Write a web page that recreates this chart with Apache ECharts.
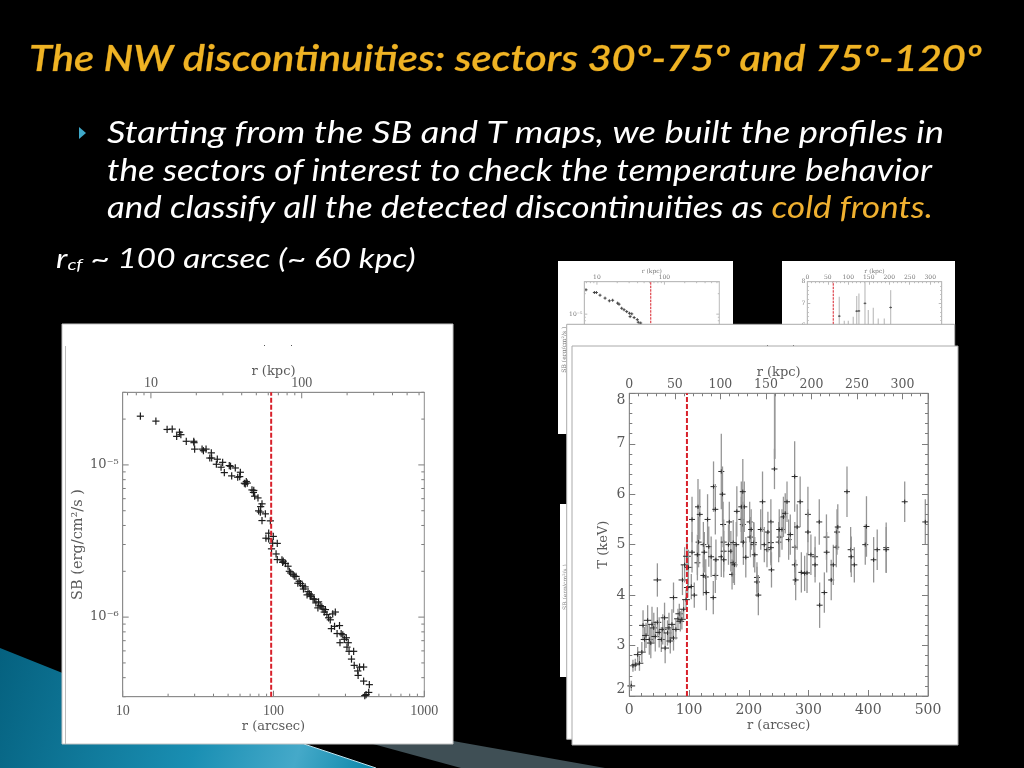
<!DOCTYPE html>
<html><head><meta charset="utf-8"><style>html,body{margin:0;padding:0;background:#000}#c{width:1024px;height:768px}</style>
<script src="https://cdn.jsdelivr.net/npm/echarts@6/dist/echarts.min.js"></script></head><body><div id="c"></div>
<script>
const titleText = 'The NW discontinuities: sectors 30º-75º and 75º-120º';
const bodyLines = ['Starting from the SB and T maps, we built the profiles in','the sectors of interest to check the temperature behavior','and classify all the detected discontinuities as '];
const bodyAccent = 'cold fronts.';
const coldFrontRadius = 96.5;

// Surface brightness, sector 75-120 (r in arcsec, SB in units of 1e-5)
const sbR = [13.1,16.6,19.7,21.3,22.8,23.8,24.3,26.4,29.6,29.7,30,33.6,34.3,35.7,38.7,37.8,38.9,42.4,41.8,46,44.9,47.2,50.9,51.9,55.8,52.8,57.9,60.3,59.7,64.1,66,67,65,72,73.6,74,75,78.9,83.9,82.2,79.7,81.8,88.3,83.9,95.3,92.9,89.1,92.9,99.7,98.7,105.9,97,104,105.9,113.8,116,115,124.8,127.4,130,137.4,141,145,151,156,158,169.4,173,167,175.8,186.6,191,204,209,197,221,217,257,247,232,238,242,254,274,264,281,288,304,295,276,313,307,317,340,329,343,372,396,362,364,396,432,428,411,403,120,135,148,162,178,183,199,213,226];
const sbV = [2.09,1.94,1.71,1.72,1.54,1.64,1.58,1.43,1.43,1.40,1.27,1.27,1.24,1.27,1.2,1.11,1.11,1.09,1.01,1.04,.966,.89,.99,.98,.955,.847,.83,.895,.838,.758,.778,.76,.75,.685,.66,.68,.623,.607,.555,.532,.499,.49,.477,.431,.429,.356,.33,.327,.339,.306,.305,.281,.26,.239,.238,.233,.229,.216,.2,.195,.186,.185,.167,.166,.161,.153,.147,.142,.14,.137,.131,.124,.119,.117,.115,.112,.108,.108,.105,.099,.096,.084,.087,.088,.078,.078,.0766,.0732,.0715,.0679,.0679,.0635,.0596,.0596,.053,.0482,.047,.047,.0443,.0414,.038,.036,.032,.031,.0305,.225,.19,.172,.158,.14,.132,.126,.113,.104];
const sbXMajor = [10,100,1000];
const sbXMinor = [20,30,40,50,60,70,80,90,200,300,400,500,600,700,800,900];
const sbTopMajor = [10,100];
const sbTopMinor = [7,8,9,20,30,40,50,60,70,80,90,200,300,400,500,600];
const sbYMajor = [.1,1];
const sbYMinor = [.03,.04,.05,.06,.07,.08,.09,.2,.3,.4,.5,.6,.7,.8,.9,2,3];

// Temperature, sector 75-120 (r in arcsec, T in keV, error in keV)
const tR = [3.3,6.1,10,14,17,21,23,25.7,28,30.7,33.5,36,38,41,43.5,47,50,53.6,56,59,60,64,66.4,68.6,71.4,74,74,47,78,81.5,83.7,85.4,88,91,89,92.6,95,96.5,99,98,103.8,108.8,105,105,114,115,118,116,114,124,125.6,124,128,131,129,133,137,141,140.6,144,144,145,154,154,156,157,158,158,158,166,167.4,170,172,174,174,176,179,180,187.5,190,187.5,192.5,190,191,195,201.5,202.6,204,208,208.7,210,213.7,213.7,216,220,223,226,230.5,232,237,237,237,238,243,250,251.7,251,255.6,258,261,264,266.7,269.5,276.8,277,277,278.5,281,286,288,293.5,297.5,299,299,304,311,311,318,318.6,326.5,330,330.4,338,341.5,346.5,347.7,349,364.4,370.5,371.6,376.7,395,397,409,415,430,430,461,495.5];
const tV = [2.2,2.6,2.62,2.82,2.65,2.87,3.4,3.12,3.2,3.5,3.12,3.05,3.42,3.35,3.18,3.46,3.26,3.12,3.32,3.55,2.95,3.25,3.35,3.09,3.42,3.15,3.95,4.3,3.32,3.53,3.63,3.48,3.52,3.72,4.3,4.6,3.91,4.77,4.55,4.15,4.17,4,5.5,4.85,4.64,5.75,5.6,5.05,4.8,5,4.85,4.39,4.36,5.5,4.05,4.96,4.76,6.15,3.95,5.7,4.39,4.7,6.45,4.76,6,5.4,5.05,4.87,4.7,5,5.45,4.87,4.41,5.04,4.64,4.6,5,5.66,5.5,5.4,5.75,5.75,6.05,5.05,4.75,5.45,5.15,5.3,5,5.04,4.8,4.35,4.26,4,5.3,5.85,5,4.9,5.25,5.45,5.04,4.94,4.5,6.5,5.05,5.15,5.3,5.3,5.55,5.62,5.85,5.1,5.2,6.35,4.95,4.6,4.3,5.35,5.85,4.45,4.43,4.44,5.6,5.25,4.8,4.76,4.6,5.45,3.8,4.05,5.15,4.85,4.3,4.6,4.95,5.25,5.35,6.05,4.9,4.76,4.6,5,5.36,4.7,4.9,4.94,4.9,5.85,5.45];
const tE = [.1,.12,.12,.15,.15,.2,.3,.25,.25,.3,.3,.3,.35,.3,.3,.3,.3,.25,.3,.3,.3,.25,.3,.25,.3,.25,.3,.33,.2,.2,.2,.2,.2,.2,.3,.35,.2,.3,.35,.2,.25,.25,.45,.4,.35,.55,.5,.5,.4,.45,.4,.4,.35,.5,.35,.4,.4,.5,.33,.5,.35,.4,.75,.4,.55,.45,.45,.4,.35,.4,.4,.4,.3,.45,.4,.4,.45,.5,.45,.45,.5,.5,.65,.45,.4,.4,.4,.4,.45,.4,.35,.3,.3,.4,.4,.6,.35,.35,.4,.45,.4,.35,.35,.4,.4,.4,.4,.4,.4,.4,.4,.4,.4,.7,.5,.4,.4,.45,.5,.4,.35,.4,.55,.45,.4,.4,.35,.45,.45,.4,.45,.4,.4,.4,.4,.45,.45,.5,.45,.4,.35,.4,.6,.45,.4,.5,.45,.4,.45];
const tLongR = [243.5];
const tLongLow = [6.7];
const tLongHigh = [8];
const tKpcMax = 328;

// Partly hidden panels behind the front plots
const sbBackR = [10.6,14.1,15.1,17.1,20.3,23.5,26.3,31.2,32.7,35.8,38.8,42.5,46.6,50.5,47.7,54.7,61,63,67,68.5];
const sbBackV = [2.28,2.08,2.08,1.9,1.72,1.57,1.6,1.45,1.4,1.22,1.16,1.09,1.03,1.01,.92,.89,.83,.76,.7,.74];
const tBackR = [119,183.7,192,214.6,310,171,227,245.6,264,286.5,137.7,152.6];
const tBackV = [6.41,6.64,6.65,7,6.81,5.6,5.6,5.6,5.6,5.6,5.6,5.6];
const tBackE = [.9,.7,.8,1.2,.8,.78,1.09,1.2,.7,.7,.6,.6];

const SERIF = '"DejaVu Serif","Liberation Serif",serif';
const LSERIF = '"Liberation Serif",serif';
const HAND = 'Lato,"Open Sans",sans-serif';
const chart = echarts.init(document.getElementById('c'));

function zip(a,b,c){return a.map((v,i)=>c?[v,b[i],c[i]]:[v,b[i]]);}
function crossSeries(name,data,xi,yi,z,half,color,w){
  return {type:'custom',name,xAxisIndex:xi,yAxisIndex:yi,z,silent:true,encode:{x:0,y:1},data,
    renderItem(p,api){const c=api.coord([api.value(0),api.value(1)]);const s={stroke:color,lineWidth:w};
      return {type:'group',children:[
        {type:'line',shape:{x1:c[0]-half,y1:c[1],x2:c[0]+half,y2:c[1]},style:s},
        {type:'line',shape:{x1:c[0],y1:c[1]-half,x2:c[0],y2:c[1]+half},style:s}]};}};
}
function errSeries(name,data,xi,yi,z,half,barColor,crossColor){
  return {type:'custom',name,xAxisIndex:xi,yAxisIndex:yi,z,silent:true,encode:{x:0,y:1},data,
    renderItem(p,api){const x=api.value(0),y=api.value(1),e=api.value(2);
      const c=api.coord([x,y]),a=api.coord([x,Math.max(y-e,2)]),b=api.coord([x,Math.min(y+e,8)]);
      const hw=half*(x<100?1.3:1);
      return {type:'group',children:[
        {type:'line',shape:{x1:c[0],y1:a[1],x2:c[0],y2:b[1]},style:{stroke:barColor,lineWidth:1.3}},
        {type:'line',shape:{x1:c[0]-hw,y1:c[1],x2:c[0]+hw,y2:c[1]},style:{stroke:crossColor,lineWidth:1}},
        {type:'line',shape:{x1:c[0],y1:c[1]-half*.7,x2:c[0],y2:c[1]+half*.7},style:{stroke:crossColor,lineWidth:1}}]};}};
}
function longSeries(name,rs,lo,hi,xi,yi,z,color){
  return {type:'custom',name,xAxisIndex:xi,yAxisIndex:yi,z,silent:true,encode:{x:0,y:1},data:rs.map((r,i)=>[r,lo[i],hi[i]]),
    renderItem(p,api){const a=api.coord([api.value(0),api.value(1)]),b=api.coord([api.value(0),api.value(2)]);
      return {type:'line',shape:{x1:a[0],y1:a[1],x2:b[0],y2:b[1]},style:{stroke:color,lineWidth:1.8}};}};
}
function redLine(name,r,y0,y1,xi,yi,z,w,dash){
  return {type:'line',name,xAxisIndex:xi,yAxisIndex:yi,z,silent:true,symbol:'none',data:[[r,y0],[r,y1]],
    lineStyle:{color:'#d8202a',width:w,type:dash},animation:false};
}
// tick marks for logarithmic axes, placed through the axis scale
function xTicks(name,major,minor,yEdge,dir,xi,yi,z,lenMajor,lenMinor,color){
  const all=major.concat(minor);
  return {type:'custom',name,xAxisIndex:xi,yAxisIndex:yi,z,silent:true,encode:{x:0,y:1},data:all.map(v=>[v,yEdge]),
    renderItem(p,api){const c=api.coord([api.value(0),api.value(1)]);const l=(p.dataIndex<major.length?lenMajor:lenMinor)*dir;
      return {type:'line',shape:{x1:c[0],y1:c[1],x2:c[0],y2:c[1]+l},style:{stroke:color,lineWidth:1}};}};
}
function yTicks(name,major,minor,x0,x1,xi,yi,z,lenMajor,lenMinor,color){
  const all=major.concat(minor);
  return {type:'custom',name,xAxisIndex:xi,yAxisIndex:yi,z,silent:true,encode:{x:0,y:1},data:all.map(v=>[x0,v]),
    renderItem(p,api){const v=api.value(1);const a=api.coord([x0,v]),b=api.coord([x1,v]);const l=p.dataIndex<major.length?lenMajor:lenMinor;
      return {type:'group',children:[
        {type:'line',shape:{x1:a[0],y1:a[1],x2:a[0]+l,y2:a[1]},style:{stroke:color,lineWidth:1}},
        {type:'line',shape:{x1:b[0],y1:b[1],x2:b[0]-l,y2:b[1]},style:{stroke:color,lineWidth:1}}]};}};
}
const near=(v,t)=>Math.abs(v-t)<1e-6*t;
const fmtLogX=v=>[10,100,1000].some(t=>near(v,t))?String(Math.round(v)):'';
const fmtLogY=v=>near(v,1)?'10⁻⁵':near(v,.1)?'10⁻⁶':'';
const fmtKpc=v=>v%50===0?String(v):'';
function axisBase(z,size,color,line){
  return {z,nameMoveOverlap:false,splitLine:{show:false},animation:false,
    nameTextStyle:{fontFamily:SERIF,fontSize:size,color},
    axisLine:{onZero:false,lineStyle:{color:line,width:1}}};
}
function logAxis(base,o){return Object.assign({},base,{type:'log',logBase:10,axisTick:{show:false},minorTick:{show:false}},o);}
function linAxis(base,o){return Object.assign({},base,{type:'value'},o);}
function lab(size,color,margin,fmt,family){return {show:true,fontFamily:family||SERIF,fontSize:size,color,margin,formatter:fmt,hideOverlap:false,showMinLabel:true,showMaxLabel:true};}
function linTicks(len,minorLen,color,split){return {axisTick:{show:true,inside:true,length:len,lineStyle:{color}},minorTick:{show:true,splitNumber:split,length:minorLen,lineStyle:{color}}};}

const F=5,B=2,TC='#7d7d7d',BTC='#bbb';
const fb=axisBase(F,13,'#5a5a5a','#8c8c8c');
const bb=axisBase(B,6,'#777','#bbb');
const tYLab=Object.assign(lab(14,'#5a5a5a',4),{verticalAlignMaxLabel:'top',verticalAlignMinLabel:'bottom'});
const sbName=Object.assign({},fb.nameTextStyle,{fontSize:14.5});
const xAxes=[
 // 0 SB bottom, 1 SB top
 logAxis(fb,{gridIndex:0,position:'bottom',min:10,max:1000,name:'r (arcsec)',nameLocation:'middle',nameGap:23,axisLabel:lab(14,'#5a5a5a',8,fmtLogX,LSERIF)}),
 logAxis(fb,{gridIndex:0,position:'top',min:6.5,max:650,name:'r (kpc)',nameLocation:'middle',nameGap:14,axisLabel:lab(14,'#5a5a5a',2,fmtLogX,LSERIF)}),
 // 2 T bottom, 3 T top
 linAxis(fb,Object.assign({gridIndex:1,position:'bottom',min:0,max:500,interval:100,name:'r (arcsec)',nameLocation:'middle',nameGap:23,axisLabel:lab(14,'#5a5a5a',7)},linTicks(6,3,TC,5))),
 linAxis(fb,Object.assign({gridIndex:1,position:'top',min:0,max:tKpcMax,interval:50,name:'r (kpc)',nameLocation:'middle',nameGap:14,axisLabel:lab(12.5,'#5a5a5a',2,fmtKpc)},linTicks(6,3,TC,5))),
 // 4 back SB bottom, 5 back SB top
 logAxis(bb,{gridIndex:2,position:'bottom',min:10,max:1000,axisLabel:lab(6,'#777',3,fmtLogX)}),
 logAxis(bb,{gridIndex:2,position:'top',min:6.5,max:650,name:'r (kpc)',nameLocation:'middle',nameGap:7,axisLabel:lab(6,'#777',1,fmtLogX)}),
 // 6 back T bottom, 7 back T top
 linAxis(bb,Object.assign({gridIndex:3,position:'bottom',min:0,max:500,interval:100,axisLabel:lab(6,'#777',3)},linTicks(3,1.5,BTC,5))),
 linAxis(bb,Object.assign({gridIndex:3,position:'top',min:0,max:tKpcMax,interval:50,name:'r (kpc)',nameLocation:'middle',nameGap:7,axisLabel:lab(6,'#777',1,fmtKpc)},linTicks(3,1.5,BTC,5))),
];
const yAxes=[
 logAxis(fb,{gridIndex:0,position:'left',min:.03,max:3,name:'SB (erg/cm²/s )',nameLocation:'middle',nameGap:37,nameTextStyle:sbName,axisLabel:lab(13,'#5a5a5a',4,fmtLogY)}),
 linAxis(fb,Object.assign({gridIndex:1,position:'left',min:2,max:8,interval:1,name:'T (keV)',nameLocation:'middle',nameGap:19,axisLabel:tYLab},linTicks(6,3,TC,5))),
 linAxis(fb,Object.assign({gridIndex:1,position:'right',min:2,max:8,interval:1,axisLabel:{show:false}},linTicks(6,3,TC,5))),
 logAxis(bb,{gridIndex:2,position:'left',min:.03,max:3,name:'SB (erg/cm²/s )',nameLocation:'middle',nameGap:17,axisLabel:lab(6,'#777',2,fmtLogY)}),
 linAxis(bb,Object.assign({gridIndex:3,position:'left',min:2,max:8,interval:1,axisLabel:lab(6,'#777',2)},linTicks(3,1.5,BTC,5))),
 linAxis(bb,Object.assign({gridIndex:3,position:'right',min:2,max:8,interval:1,axisLabel:{show:false}},linTicks(3,1.5,BTC,5))),
];
const grid=[
 {left:122.7,top:392.3,width:301.6,height:304.4,show:true,borderColor:'#8c8c8c',borderWidth:1,backgroundColor:'transparent',z:F},
 {left:629.3,top:393.3,width:298.7,height:302.7,show:true,borderColor:'#8c8c8c',borderWidth:1,backgroundColor:'transparent',z:F},
 {left:584.3,top:281.7,width:135,height:136,show:true,borderColor:'#bbb',borderWidth:1,backgroundColor:'transparent',z:B},
 {left:807.3,top:281.7,width:134.4,height:130,show:true,borderColor:'#bbb',borderWidth:1,backgroundColor:'transparent',z:B},
];
const series=[
 xTicks('sb-x-ticks',sbXMajor,sbXMinor,.03,-1,0,0,F,6,3,TC),
 xTicks('sb-top-ticks',sbTopMajor,sbTopMinor,3,1,1,0,F,6,3,TC),
 yTicks('sb-y-ticks',sbYMajor,sbYMinor,10,1000,0,0,F,6,3,TC),
 redLine('sb-rcf',coldFrontRadius,.03,3,0,0,F+1,2,[5,2]),
 crossSeries('SB',zip(sbR,sbV),0,0,F+1,3.6,'#1c1c1c',1.2),
 longSeries('T-long',tLongR,tLongLow,tLongHigh,2,1,F,'#999'),
 errSeries('T',zip(tR,tV,tE),2,1,F,3,'#969696','#2a2a2a'),
 redLine('T-rcf',coldFrontRadius,2,8,2,1,F+1,2,[5,2]),
 xTicks('sb2-x-ticks',sbXMajor,sbXMinor,.03,-1,4,3,B,3,1.5,BTC),
 xTicks('sb2-top-ticks',sbTopMajor,sbTopMinor,3,1,5,3,B,3,1.5,BTC),
 yTicks('sb2-y-ticks',sbYMajor,sbYMinor,10,1000,4,3,B,3,1.5,BTC),
 redLine('sb2-rcf',coldFrontRadius,.03,3,4,3,B,1,[2.5,1]),
 crossSeries('SB back',zip(sbBackR,sbBackV),4,3,B,1.5,'#444',1),
 errSeries('T back',zip(tBackR,tBackV,tBackE),6,4,B,1.3,'#c4c4c4','#555'),
 redLine('T2-rcf',coldFrontRadius,2,8,6,4,B,1,[2.5,1]),
];
function panel(x,y,w,h,z,border){return {type:'rect',z,silent:true,shape:{x,y,width:w,height:h},style:{fill:'#fff',stroke:border||null,lineWidth:border?1:0}};}
function poly(points,z,fill){return {type:'polygon',z,silent:true,shape:{points},style:{fill}};}
function text(x,y,t,z,o,sx){return {type:'text',x,y,z,silent:true,scaleX:sx||1,style:Object.assign({text:t,fill:'#fff',verticalAlign:'middle'},o)};}
const teal=new echarts.graphic.LinearGradient(0,0,1,1,[{offset:0,color:'#05617f'},{offset:.55,color:'#1a8fb3'},{offset:.8,color:'#45a9c9'},{offset:1,color:'#0a86a8'}]);
const BODY='italic 31px '+HAND;
const graphic={elements:[
 poly([[0,648],[130,700],[304,744],[376,768],[0,768]],0,teal),
 {type:'line',z:0,silent:true,shape:{x1:304,y1:744,x2:376,y2:768},style:{stroke:'#bfe3ee',lineWidth:1}},
 poly([[373,744],[453,741],[605,768],[461,768]],0,'#3f4f55'),
 poly([[79,127],[86,133],[79,139]],0,'#3fa9c9'),
 text(29,59,titleText,0,{font:'italic 600 36px '+HAND,fill:'#efb324',stroke:'#8a5d10',lineWidth:.4},1.158),
 text(107,133,bodyLines[0],0,{font:BODY},1.173),
 text(107,171,bodyLines[1],0,{font:BODY},1.133),
 {type:'text',x:107,y:208,z:0,silent:true,scaleX:1.125,style:{verticalAlign:'middle',rich:{a:{font:BODY,fill:'#fff'},b:{font:BODY,fill:'#efb030'}},text:'{a|'+bodyLines[2]+'}{b|'+bodyAccent+'}'}},
 {type:'text',x:56,y:259,z:0,silent:true,scaleX:1.233,style:{verticalAlign:'middle',rich:{r:{font:'italic 27px '+HAND,fill:'#fff'},s:{font:'italic 16px '+HAND,fill:'#fff',verticalAlign:'bottom',padding:[9,0,0,0]}},text:'{r|r}{s|cf}{r| ~ 100 arcsec (~ 60 kpc)}'}},
 // rear panels
 panel(558,261,175,173,1),
 panel(782,261,173,90,1),
 panel(560,504,8,173,1),
 {type:'text',x:565,y:587,z:1,silent:true,rotation:Math.PI/2,style:{text:'SB (erg/cm²/s )',font:'6px '+SERIF,fill:'#888',align:'center',verticalAlign:'middle'}},
 // middle and front panels
 panel(566.7,324.3,388,415,3,'#aaa'),
 panel(62,324,391,420,4,'#c4c4c4'),
 {type:'line',z:4,silent:true,shape:{x1:65.5,y1:346,x2:65.5,y2:744},style:{stroke:'#bbb',lineWidth:1}},
 {type:'rect',z:4,silent:true,shape:{x:264,y:345,width:1,height:1},style:{fill:'#555'}},
 {type:'rect',z:4,silent:true,shape:{x:291,y:345,width:1,height:1},style:{fill:'#555'}},
 {type:'rect',z:3,silent:true,shape:{x:767,y:345,width:1,height:1},style:{fill:'#555'}},
 {type:'rect',z:3,silent:true,shape:{x:793,y:345,width:1,height:1},style:{fill:'#555'}},
 panel(572,346,386,399,4,'#aaa'),
]};
chart.setOption({animation:false,backgroundColor:'#000',graphic,grid,xAxis:xAxes,yAxis:yAxes,series});
</script></body></html>
